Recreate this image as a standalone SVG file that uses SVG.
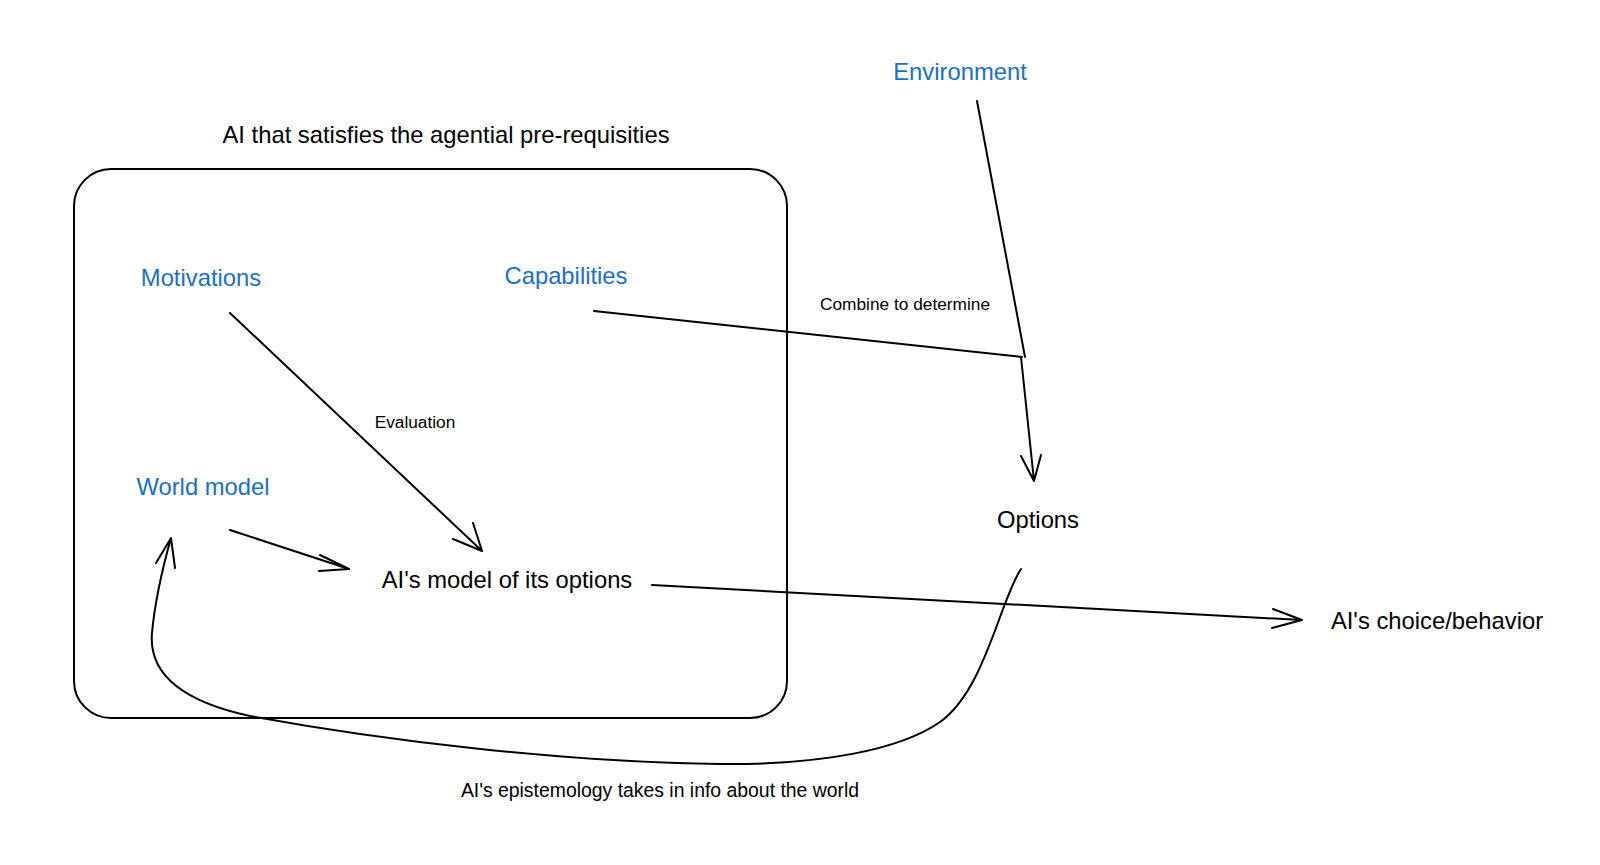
<svg xmlns="http://www.w3.org/2000/svg" width="1600" height="865" viewBox="0 0 1600 865">
<style>
text{font-family:"Liberation Sans",Arial,sans-serif;fill:#000}
.big{font-size:23.8px}
.small{font-size:17.3px}
.epi{font-size:19.4px}
.blue{fill:#1a6fc9}
.ln{fill:none;stroke:#000;stroke-width:2;stroke-linecap:round;stroke-linejoin:round}
</style>
<rect width="1600" height="865" fill="#fff"/>
<g id="agent-box">
<rect x="74" y="169" width="713" height="549" rx="37" ry="37" fill="none" stroke="#000" stroke-width="2"/>
<text class="big" x="446" y="143" text-anchor="middle">AI that satisfies the agential pre-requisities</text>
</g>
<g id="environment"><text class="big blue" x="960" y="80" text-anchor="middle">Environment</text></g>
<g id="motivations"><text class="big blue" x="201" y="286" text-anchor="middle">Motivations</text></g>
<g id="capabilities"><text class="big blue" x="566" y="284" text-anchor="middle">Capabilities</text></g>
<g id="world-model"><text class="big blue" x="203" y="495" text-anchor="middle">World model</text></g>
<g id="model-options"><text class="big" x="507" y="588" text-anchor="middle">AI's model of its options</text></g>
<g id="options"><text class="big" x="1038" y="528" text-anchor="middle">Options</text></g>
<g id="choice"><text class="big" x="1437" y="629" text-anchor="middle">AI's choice/behavior</text></g>
<g id="connectors">
<path class="ln" d="M230,313 L482,551 M453,539 L482,551 L473,523"/>
<text class="small" x="415" y="428" text-anchor="middle">Evaluation</text>
<path class="ln" d="M230,530 L349,569 M320,555 L349,569 L319,571"/>
<path class="ln" d="M594,311 L1022,357"/>
<path class="ln" d="M977,101 L1025,357"/>
<path class="ln" d="M1021,357 L1034,481 M1021,456 L1034,481 L1041,455"/>
<text class="small" x="905" y="310" text-anchor="middle">Combine to determine</text>
<path class="ln" d="M652,585 L1302,620 M1273,609 L1302,620 L1272,628"/>
<path class="ln" d="M1021,569 C1000,600 985,690 940,722 C900,750 820,765 720,764 C560,762 380,740 250,716 C195,704 148,680 152,633 C155,600 162,570 171,538 M156,563 L171,538 L175,568"/>
<text class="epi" x="660" y="797" text-anchor="middle">AI's epistemology takes in info about the world</text>
</g>
</svg>
